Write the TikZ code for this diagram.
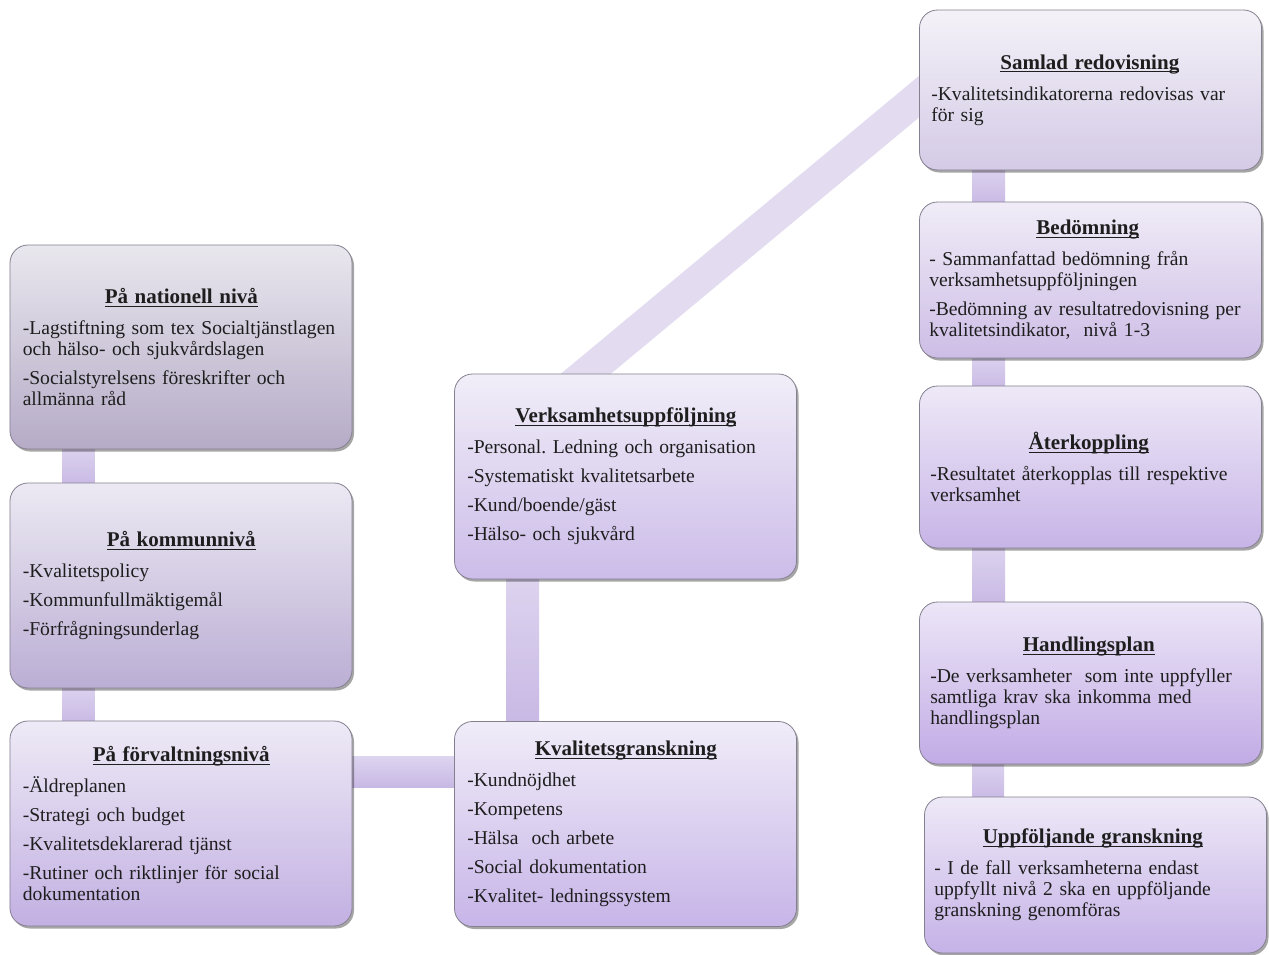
\documentclass[tikz,border=0pt]{standalone}
\usepackage{fontspec}
\setmainfont{Liberation Serif}
\usetikzlibrary{calc,shadows,backgrounds}
\frenchspacing
\newcommand\ulx[1]{\setbox0\hbox{#1}\rlap{\rule[-3bp]{\wd0}{0.9bp}}\box0}
\newcommand\hdx[1]{{\centering\fontsize{21bp}{21bp}\selectfont\ulx{\textbf{#1}}\par}\vspace{2bp}}
\newcommand\lnx[1]{\mbox{#1}}
\definecolor{boxline}{HTML}{858090}
\definecolor{textc}{HTML}{1E1E1E}
\definecolor{natT}{HTML}{E9E7EE}\definecolor{natB}{HTML}{B5ABC7}
\definecolor{komT}{HTML}{ECE9F3}\definecolor{komB}{HTML}{BBAED4}
\definecolor{forT}{HTML}{EEEAF6}\definecolor{forB}{HTML}{C2B0E2}
\definecolor{verT}{HTML}{F1EEF8}\definecolor{verB}{HTML}{CCBCE9}
\definecolor{kvaT}{HTML}{F0ECF8}\definecolor{kvaB}{HTML}{C7B5E8}
\definecolor{samT}{HTML}{F4F2F8}\definecolor{samB}{HTML}{D4CAE6}
\definecolor{bedT}{HTML}{F0ECF7}\definecolor{bedB}{HTML}{CDBDE6}
\definecolor{ateT}{HTML}{EEE9F7}\definecolor{ateB}{HTML}{C7B4E7}
\definecolor{hanT}{HTML}{ECE6F7}\definecolor{hanB}{HTML}{C2ABE5}
\definecolor{uppT}{HTML}{EEE9F7}\definecolor{uppB}{HTML}{C5B2E7}
\definecolor{barT}{HTML}{DDD4EF}\definecolor{barB}{HTML}{C8B8E4}
\definecolor{diagc}{HTML}{E3DCF1}
\tikzset{
  box/.style 2 args={draw=boxline, line width=0.8bp, rounded corners=18bp,
    top color=#1, bottom color=#2, minimum width=342bp, inner sep=0pt,
    drop shadow={shadow xshift=2bp, shadow yshift=-2.5bp, opacity=0.35, fill=black}},
  txt/.style={text width=317bp, inner sep=0pt, anchor=west, text=textc,
    font=\fontsize{19.6bp}{21bp}\selectfont,
    execute at begin node={\setlength\parskip{8bp}}},
  bar/.style={top color=barT, bottom color=barB, draw=none},
  diag/.style={draw=diagc, line width=32bp, shorten <=-20bp, shorten >=-20bp},
}
\begin{document}
\begin{tikzpicture}[x=1bp,y=-1bp]
\useasboundingbox (0,0) rectangle (1269,955);

% left column
\node[box={natT}{natB}, minimum height=204bp] (nat) at (181,347) {};
\node[txt] (natx) at ($(nat.west)+(13,0)$) {\hdx{På nationell nivå}\lnx{-Lagstiftning som tex Socialtjänstlagen}\\\lnx{och hälso- och sjukvårdslagen}\par\lnx{-Socialstyrelsens föreskrifter och}\\\lnx{allmänna råd}};

\node[box={komT}{komB}, minimum height=205bp] (kom) at (181,585.5) {};
\node[txt] (komx) at ($(kom.west)+(13,0)$) {\hdx{På kommunnivå}\lnx{-Kvalitetspolicy}\par\lnx{-Kommunfullmäktigemål}\par\lnx{-Förfrågningsunderlag}};

\node[box={forT}{forB}, minimum height=205bp] (forv) at (181,823.5) {};
\node[txt] (forx) at ($(forv.west)+(13,0)$) {\hdx{På förvaltningsnivå}\lnx{-Äldreplanen}\par\lnx{-Strategi och budget}\par\lnx{-Kvalitetsdeklarerad tjänst}\par\lnx{-Rutiner och riktlinjer för social}\\\lnx{dokumentation}};

% middle column
\node[box={verT}{verB}, minimum height=205bp] (verk) at (625.5,476.5) {};
\node[txt] (verkx) at ($(verk.west)+(13,0)$) {\hdx{Verksamhetsuppföljning}\lnx{-Personal. Ledning och organisation}\par\lnx{-Systematiskt kvalitetsarbete}\par\lnx{-Kund/boende/gäst}\par\lnx{-Hälso- och sjukvård}};

\node[box={kvaT}{kvaB}, minimum height=205bp] (kval) at (625.5,824) {};
\node[txt] (kvalx) at ($(kval.west)+(13,0)$) {\hdx{Kvalitetsgranskning}\lnx{-Kundnöjdhet}\par\lnx{-Kompetens}\par\lnx{-Hälsa\ \ och arbete}\par\lnx{-Social dokumentation}\par\lnx{-Kvalitet- ledningssystem}};

% right column
\node[box={samT}{samB}, minimum height=160bp] (sam) at (1090.5,90) {};
\node[txt] (samx) at ($(sam.west)+(12,0)$) {\hdx{Samlad redovisning}\lnx{-Kvalitetsindikatorerna redovisas var}\\\lnx{för sig}};

\node[box={bedT}{bedB}, minimum height=156bp] (bed) at (1090.5,280) {};
\node[txt] (bedx) at ($(bed.west)+(10,0)$) {\hdx{Bedömning}\lnx{- Sammanfattad bedömning från}\\\lnx{verksamhetsuppföljningen}\par\lnx{-Bedömning av resultatredovisning per}\\\lnx{kvalitetsindikator,\ \ nivå 1-3}};

\node[box={ateT}{ateB}, minimum height=162bp] (ate) at (1090.5,467) {};
\node[txt] (atex) at ($(ate.west)+(11,0)$) {\hdx{Återkoppling}\lnx{-Resultatet återkopplas till respektive}\\\lnx{verksamhet}};

\node[box={hanT}{hanB}, minimum height=162bp] (han) at (1090.5,683) {};
\node[txt] (hanx) at ($(han.west)+(11,0)$) {\hdx{Handlingsplan}\lnx{-De verksamheter\ \ som inte uppfyller}\\\lnx{samtliga krav ska inkomma med}\\\lnx{handlingsplan}};

\node[box={uppT}{uppB}, minimum height=156bp] (upp) at (1095.5,875) {};
\node[txt] (uppx) at ($(upp.west)+(10,0)$) {\hdx{Uppföljande granskning}\lnx{- I de fall verksamheterna endast}\\\lnx{uppfyllt nivå 2 ska en uppföljande}\\\lnx{granskning genomföras}};

% connectors
\begin{scope}[on background layer]
  \fill[white] (0,0) rectangle (1269,955);
  \coordinate (d1) at ($(verk.north west)+(132,0)$);
  \coordinate (d2) at ($(sam.north west)+(0,87)$);
  \draw[diag] (d1) -- (d2);
  \shade[bar] ($(nat.south west)+(53,-4)$) rectangle ($(kom.north west)+(85,4)$);
  \shade[bar] ($(kom.south west)+(53,-4)$) rectangle ($(forv.north west)+(85,4)$);
  \shade[bar] ($(forv.north east)+(-4,36)$) rectangle ($(kval.north west)+(4,66)$);
  \shade[bar] ($(verk.south west)+(52,-4)$) rectangle ($(kval.north west)+(85,4)$);
  \shade[bar] ($(sam.south west)+(53,-4)$) rectangle ($(bed.north west)+(86,4)$);
  \shade[bar] ($(bed.south west)+(53,-4)$) rectangle ($(ate.north west)+(86,4)$);
  \shade[bar] ($(ate.south west)+(53,-4)$) rectangle ($(han.north west)+(86,4)$);
  \shade[bar] ($(han.south west)+(53,-4)$) rectangle ($(upp.north west)+(80,4)$);
\end{scope}
\end{tikzpicture}
\end{document}
